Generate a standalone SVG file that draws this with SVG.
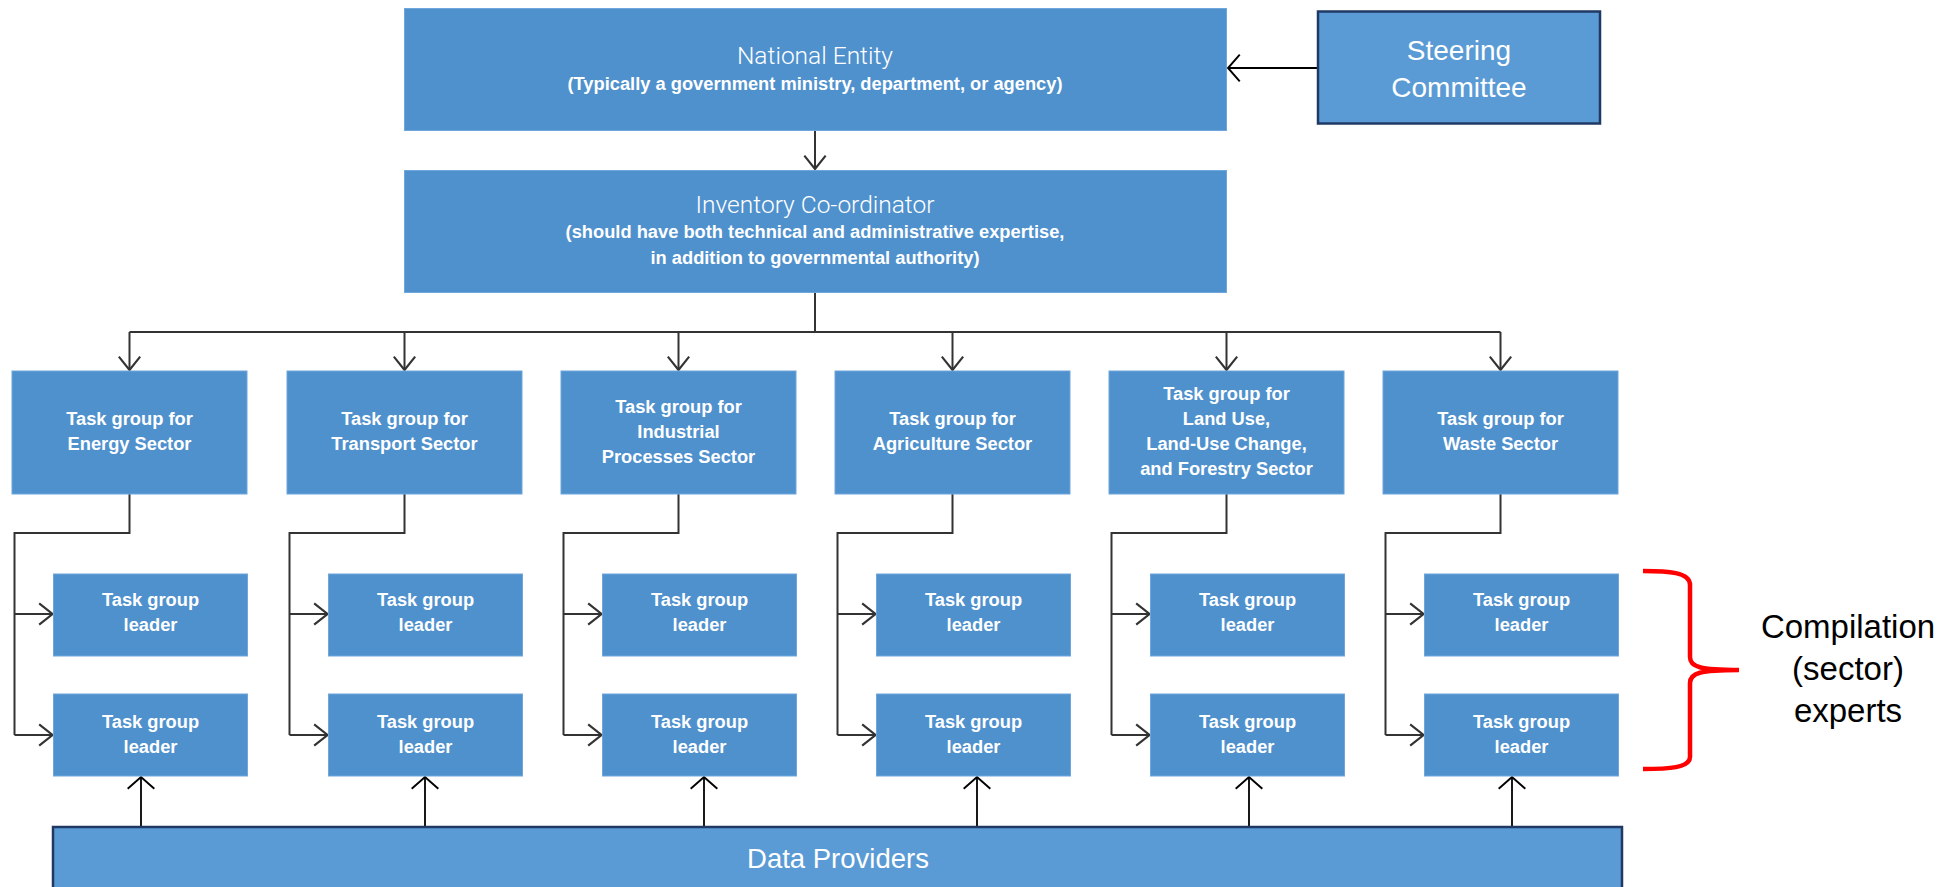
<svg xmlns="http://www.w3.org/2000/svg" width="1955" height="887" viewBox="0 0 1955 887">
<style>
.box{fill:#4F91CD;stroke:#6FA6DC;stroke-width:1}
.box2{fill:#5B9BD5;stroke:#1F3864;stroke-width:2.5}
.w{fill:#fff;font-family:"Liberation Sans",Arial,sans-serif;text-anchor:middle}
.b{font-weight:bold;font-size:18.3px}
.lt{font-family:Roboto,"Liberation Sans",sans-serif;font-weight:300;font-size:24.5px}
.cal{font-family:"Liberation Sans",Arial,sans-serif;text-anchor:middle}
.ln{fill:none;stroke:#333;stroke-width:2}
.lk{fill:none;stroke:#000;stroke-width:1.8}
</style>
<defs>
<marker id="ah" markerUnits="userSpaceOnUse" markerWidth="16" markerHeight="24" viewBox="-1 -11 15 22" refX="12.5" refY="0" orient="auto">
<path d="M0,-10 L12.5,0 L0,10" fill="none" stroke="#333" stroke-width="2"/>
</marker>
<marker id="ak" markerUnits="userSpaceOnUse" markerWidth="16" markerHeight="30" viewBox="-1 -14 15 28" refX="11" refY="0" orient="auto">
<path d="M0,-12.5 L11,0 L0,12.5" fill="none" stroke="#000" stroke-width="1.8"/>
</marker>
</defs>

<g id="connectors">
<path class="lk" d="M1317,68 H1228" stroke-width="2.5" marker-end="url(#ak)"/>
<path class="ln" d="M815,130 V169" marker-end="url(#ah)"/>
<path class="ln" d="M815,293 V332 M129.5,332 H1500.5"/>
<path class="ln" d="M129.5,332 V370" marker-end="url(#ah)"/>
<path class="ln" d="M404.5,332 V370" marker-end="url(#ah)"/>
<path class="ln" d="M678.5,332 V370" marker-end="url(#ah)"/>
<path class="ln" d="M952.5,332 V370" marker-end="url(#ah)"/>
<path class="ln" d="M1226.5,332 V370" marker-end="url(#ah)"/>
<path class="ln" d="M1500.5,332 V370" marker-end="url(#ah)"/>

<path class="ln" d="M129.5,494 V533 H14.5 V735"/>
<path class="ln" d="M14.5,614 H52.5" marker-end="url(#ah)"/>
<path class="ln" d="M14.5,735 H52.5" marker-end="url(#ah)"/>
<path class="ln" d="M404.5,494 V533 H289.5 V735"/>
<path class="ln" d="M289.5,614 H327.5" marker-end="url(#ah)"/>
<path class="ln" d="M289.5,735 H327.5" marker-end="url(#ah)"/>
<path class="ln" d="M678.5,494 V533 H563.5 V735"/>
<path class="ln" d="M563.5,614 H601.5" marker-end="url(#ah)"/>
<path class="ln" d="M563.5,735 H601.5" marker-end="url(#ah)"/>
<path class="ln" d="M952.5,494 V533 H837.5 V735"/>
<path class="ln" d="M837.5,614 H875.5" marker-end="url(#ah)"/>
<path class="ln" d="M837.5,735 H875.5" marker-end="url(#ah)"/>
<path class="ln" d="M1226.5,494 V533 H1111.5 V735"/>
<path class="ln" d="M1111.5,614 H1149.5" marker-end="url(#ah)"/>
<path class="ln" d="M1111.5,735 H1149.5" marker-end="url(#ah)"/>
<path class="ln" d="M1500.5,494 V533 H1385.5 V735"/>
<path class="ln" d="M1385.5,614 H1423.5" marker-end="url(#ah)"/>
<path class="ln" d="M1385.5,735 H1423.5" marker-end="url(#ah)"/>

<path class="lk" d="M141,827 V777" marker-end="url(#ak)"/>
<path class="lk" d="M425,827 V777" marker-end="url(#ak)"/>
<path class="lk" d="M704,827 V777" marker-end="url(#ak)"/>
<path class="lk" d="M977,827 V777" marker-end="url(#ak)"/>
<path class="lk" d="M1249,827 V777" marker-end="url(#ak)"/>
<path class="lk" d="M1512,827 V777" marker-end="url(#ak)"/>
</g>

<g id="national-entity">
<rect class="box" x="404.5" y="8.5" width="822" height="122"/>
<text class="w lt" x="815" y="64">National Entity</text>
<text class="w b" x="815" y="89.5">(Typically a government ministry, department, or agency)</text>
</g>

<g id="steering-committee">
<rect class="box2" x="1318" y="11.5" width="282" height="112"/>
<text class="cal" x="1459" y="59.5" font-size="28" fill="#fff">Steering</text>
<text class="cal" x="1459" y="96.5" font-size="28" fill="#fff">Committee</text>
</g>

<g id="inventory-coordinator">
<rect class="box" x="404.5" y="170.5" width="822" height="122"/>
<text class="w lt" x="815" y="213">Inventory Co-ordinator</text>
<text class="w b" x="815" y="237.5">(should have both technical and administrative expertise,</text>
<text class="w b" x="815" y="263.5">in addition to governmental authority)</text>
</g>

<g id="tg-energy">
<rect class="box" x="12" y="371" width="235" height="123"/>
<text class="w b" x="129.5" y="424.5">Task group for</text>
<text class="w b" x="129.5" y="449.5">Energy Sector</text>
</g>
<g id="tg-transport">
<rect class="box" x="287" y="371" width="235" height="123"/>
<text class="w b" x="404.5" y="424.5">Task group for</text>
<text class="w b" x="404.5" y="449.5">Transport Sector</text>
</g>
<g id="tg-industrial">
<rect class="box" x="561" y="371" width="235" height="123"/>
<text class="w b" x="678.5" y="412.5">Task group for</text>
<text class="w b" x="678.5" y="437.5">Industrial</text>
<text class="w b" x="678.5" y="462.5">Processes Sector</text>
</g>
<g id="tg-agriculture">
<rect class="box" x="835" y="371" width="235" height="123"/>
<text class="w b" x="952.5" y="424.5">Task group for</text>
<text class="w b" x="952.5" y="449.5">Agriculture Sector</text>
</g>
<g id="tg-lulucf">
<rect class="box" x="1109" y="371" width="235" height="123"/>
<text class="w b" x="1226.5" y="399.5">Task group for</text>
<text class="w b" x="1226.5" y="424.5">Land Use,</text>
<text class="w b" x="1226.5" y="449.5">Land-Use Change,</text>
<text class="w b" x="1226.5" y="475">and Forestry Sector</text>
</g>
<g id="tg-waste">
<rect class="box" x="1383" y="371" width="235" height="123"/>
<text class="w b" x="1500.5" y="424.5">Task group for</text>
<text class="w b" x="1500.5" y="449.5">Waste Sector</text>
</g>

<g id="leader-energy-1"><rect class="box" x="53.5" y="574" width="194" height="82"/><text class="w b" x="150.5" y="605.5">Task group</text><text class="w b" x="150.5" y="630.5">leader</text></g>
<g id="leader-energy-2"><rect class="box" x="53.5" y="694" width="194" height="82"/><text class="w b" x="150.5" y="727.5">Task group</text><text class="w b" x="150.5" y="752.5">leader</text></g>
<g id="leader-transport-1"><rect class="box" x="328.5" y="574" width="194" height="82"/><text class="w b" x="425.5" y="605.5">Task group</text><text class="w b" x="425.5" y="630.5">leader</text></g>
<g id="leader-transport-2"><rect class="box" x="328.5" y="694" width="194" height="82"/><text class="w b" x="425.5" y="727.5">Task group</text><text class="w b" x="425.5" y="752.5">leader</text></g>
<g id="leader-industrial-1"><rect class="box" x="602.5" y="574" width="194" height="82"/><text class="w b" x="699.5" y="605.5">Task group</text><text class="w b" x="699.5" y="630.5">leader</text></g>
<g id="leader-industrial-2"><rect class="box" x="602.5" y="694" width="194" height="82"/><text class="w b" x="699.5" y="727.5">Task group</text><text class="w b" x="699.5" y="752.5">leader</text></g>
<g id="leader-agriculture-1"><rect class="box" x="876.5" y="574" width="194" height="82"/><text class="w b" x="973.5" y="605.5">Task group</text><text class="w b" x="973.5" y="630.5">leader</text></g>
<g id="leader-agriculture-2"><rect class="box" x="876.5" y="694" width="194" height="82"/><text class="w b" x="973.5" y="727.5">Task group</text><text class="w b" x="973.5" y="752.5">leader</text></g>
<g id="leader-lulucf-1"><rect class="box" x="1150.5" y="574" width="194" height="82"/><text class="w b" x="1247.5" y="605.5">Task group</text><text class="w b" x="1247.5" y="630.5">leader</text></g>
<g id="leader-lulucf-2"><rect class="box" x="1150.5" y="694" width="194" height="82"/><text class="w b" x="1247.5" y="727.5">Task group</text><text class="w b" x="1247.5" y="752.5">leader</text></g>
<g id="leader-waste-1"><rect class="box" x="1424.5" y="574" width="194" height="82"/><text class="w b" x="1521.5" y="605.5">Task group</text><text class="w b" x="1521.5" y="630.5">leader</text></g>
<g id="leader-waste-2"><rect class="box" x="1424.5" y="694" width="194" height="82"/><text class="w b" x="1521.5" y="727.5">Task group</text><text class="w b" x="1521.5" y="752.5">leader</text></g>

<g id="data-providers">
<rect class="box2" x="53" y="827" width="1569" height="70" stroke-width="2"/>
<text class="cal" x="838" y="868" font-size="27.5" fill="#fff">Data Providers</text>
</g>

<g id="compilation-experts">
<path d="M1643,571 C1668,571 1690,572 1690,585 V657 C1690,667 1700,670 1739,670 C1700,670 1690,673 1690,683 V757 C1690,768 1668,769 1643,769" fill="none" stroke="#FF0000" stroke-width="4.5"/>
<text class="cal" x="1848" y="638" font-size="33" fill="#000">Compilation</text>
<text class="cal" x="1848" y="680" font-size="33" fill="#000">(sector)</text>
<text class="cal" x="1848" y="722" font-size="33" fill="#000">experts</text>
</g>
</svg>
